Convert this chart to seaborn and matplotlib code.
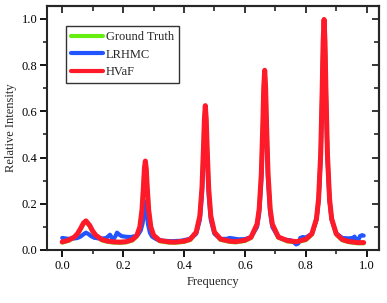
"""Relative intensity spectra: ground truth vs LRHMC vs HVaF."""

import matplotlib
matplotlib.use("Agg")
import matplotlib.pyplot as plt
from matplotlib.ticker import MultipleLocator
import seaborn as sns

# shared frequency grid for ground truth / HVaF (denser around the peaks)
freq = [0.00, 0.02, 0.04, 0.05, 0.06, 0.07, 0.078, 0.09, 0.10, 0.11, 0.13,
        0.15, 0.17, 0.19, 0.21, 0.23, 0.245, 0.255, 0.262, 0.267, 0.270,
        0.273, 0.276, 0.279, 0.284, 0.291, 0.30, 0.32, 0.35, 0.37, 0.40,
        0.42, 0.44, 0.452, 0.459, 0.464, 0.467, 0.470, 0.473, 0.476, 0.481,
        0.488, 0.50, 0.52, 0.55, 0.57, 0.60, 0.62, 0.64, 0.647, 0.654,
        0.659, 0.662, 0.665, 0.668, 0.671, 0.676, 0.683, 0.69, 0.71, 0.74,
        0.77, 0.80, 0.82, 0.835, 0.842, 0.849, 0.854, 0.857, 0.860, 0.863,
        0.866, 0.871, 0.878, 0.885, 0.90, 0.92, 0.94, 0.97, 0.99]

hvaf = [0.035, 0.042, 0.056, 0.070, 0.092, 0.117, 0.126, 0.107, 0.082, 0.064,
        0.045, 0.038, 0.035, 0.034, 0.036, 0.044, 0.062, 0.100, 0.173, 0.278,
        0.353, 0.385, 0.353, 0.278, 0.173, 0.100, 0.064, 0.041, 0.035, 0.034,
        0.038, 0.046, 0.077, 0.147, 0.268, 0.442, 0.567, 0.625, 0.567, 0.442,
        0.268, 0.147, 0.077, 0.047, 0.038, 0.036, 0.042, 0.055, 0.112, 0.178,
        0.330, 0.550, 0.706, 0.778, 0.706, 0.550, 0.330, 0.178, 0.112, 0.056,
        0.040, 0.036, 0.046, 0.070, 0.135, 0.221, 0.417, 0.701, 0.904, 0.998,
        0.904, 0.701, 0.417, 0.221, 0.135, 0.070, 0.045, 0.037, 0.032, 0.032]

ground_truth = [0.032, 0.039, 0.053, 0.067, 0.089, 0.114, 0.123, 0.104, 0.079,
                0.061, 0.042, 0.035, 0.032, 0.031, 0.033, 0.041, 0.059, 0.097,
                0.170, 0.275, 0.350, 0.382, 0.350, 0.275, 0.170, 0.097, 0.061,
                0.038, 0.032, 0.031, 0.035, 0.043, 0.074, 0.144, 0.265, 0.439,
                0.564, 0.622, 0.564, 0.439, 0.265, 0.144, 0.074, 0.044, 0.035,
                0.033, 0.039, 0.052, 0.109, 0.175, 0.327, 0.547, 0.703, 0.775,
                0.703, 0.547, 0.327, 0.175, 0.109, 0.053, 0.037, 0.033, 0.043,
                0.067, 0.132, 0.218, 0.414, 0.698, 0.901, 0.995, 0.901, 0.698,
                0.414, 0.218, 0.132, 0.067, 0.042, 0.034, 0.029, 0.029]

# LRHMC has its own (noisier) trace
freq_lr = [0.00, 0.01, 0.02, 0.03, 0.04, 0.05, 0.06, 0.07, 0.078, 0.085, 0.095,
           0.105, 0.12, 0.135, 0.145, 0.152, 0.157, 0.162, 0.168, 0.175, 0.18,
           0.186, 0.195, 0.21, 0.225, 0.24, 0.25, 0.258, 0.264, 0.268, 0.271,
           0.273, 0.275, 0.278, 0.282, 0.288, 0.295, 0.31, 0.33, 0.36, 0.39,
           0.42, 0.44, 0.452, 0.459, 0.464, 0.467, 0.470, 0.473, 0.476, 0.481,
           0.488, 0.50, 0.52, 0.54, 0.55, 0.56, 0.58, 0.60, 0.62, 0.64, 0.647,
           0.654, 0.659, 0.662, 0.665, 0.668, 0.671, 0.676, 0.683, 0.69, 0.71,
           0.73, 0.75, 0.76, 0.768, 0.775, 0.782, 0.79, 0.80, 0.82, 0.835,
           0.842, 0.849, 0.854, 0.857, 0.860, 0.863, 0.866, 0.871, 0.878,
           0.885, 0.90, 0.92, 0.94, 0.955, 0.96, 0.965, 0.972, 0.978, 0.985,
           0.99]

lrhmc = [0.052, 0.050, 0.048, 0.050, 0.050, 0.052, 0.058, 0.068, 0.075, 0.070,
         0.060, 0.053, 0.050, 0.050, 0.052, 0.060, 0.066, 0.055, 0.046, 0.060,
         0.075, 0.068, 0.060, 0.057, 0.056, 0.060, 0.068, 0.085, 0.115, 0.150,
         0.190, 0.210, 0.195, 0.155, 0.110, 0.075, 0.058, 0.046, 0.040, 0.038,
         0.040, 0.048, 0.070, 0.130, 0.240, 0.400, 0.520, 0.580, 0.520, 0.400,
         0.240, 0.130, 0.070, 0.048, 0.048, 0.052, 0.050, 0.046, 0.047, 0.055,
         0.100, 0.160, 0.300, 0.500, 0.650, 0.720, 0.650, 0.500, 0.300, 0.160,
         0.100, 0.055, 0.045, 0.042, 0.035, 0.024, 0.028, 0.052, 0.056, 0.054,
         0.070, 0.130, 0.210, 0.400, 0.670, 0.870, 0.950, 0.870, 0.670, 0.400,
         0.210, 0.130, 0.072, 0.052, 0.050, 0.052, 0.058, 0.045, 0.042, 0.060,
         0.064, 0.062]

sns.set_style("ticks")
plt.rcParams['font.family'] = ['Liberation Serif', 'DejaVu Serif']
plt.rcParams['font.size'] = 9
plt.rcParams['axes.linewidth'] = 1.5

fig = plt.figure(figsize=(3.87, 3.03), dpi=100)
ax = fig.add_axes([0.1214, 0.175, 0.8576, 0.805])

sns.lineplot(x=freq, y=ground_truth, color='#66ee11', linewidth=3.0,
             label='Ground Truth', ax=ax)
sns.lineplot(x=freq_lr, y=lrhmc, color='#2255ff', linewidth=3.0,
             label='LRHMC', ax=ax)
sns.lineplot(x=freq, y=hvaf, color='#ff1a2a', linewidth=3.6,
             label='HVaF', ax=ax)

ax.set_xlim(-0.05, 1.04)
ax.set_ylim(0, 1.056)
ax.xaxis.set_major_locator(MultipleLocator(0.2))
ax.xaxis.set_minor_locator(MultipleLocator(0.1))
ax.yaxis.set_major_locator(MultipleLocator(0.2))
ax.yaxis.set_minor_locator(MultipleLocator(0.1))
ax.xaxis.set_major_formatter(plt.FormatStrFormatter('%.1f'))
ax.yaxis.set_major_formatter(plt.FormatStrFormatter('%.1f'))
ax.tick_params(which='major', direction='out', length=5, width=1.3,
               labelsize=9, pad=2, colors='black')
ax.tick_params(which='minor', direction='out', length=3, width=1.2)

# inward ticks on the top and right, no labels
top = ax.secondary_xaxis('top')
right = ax.secondary_yaxis('right')
for sec in (top, right):
    sec_axis = sec.xaxis if sec is top else sec.yaxis
    sec_axis.set_major_locator(MultipleLocator(0.2))
    sec_axis.set_minor_locator(MultipleLocator(0.1))
    sec.tick_params(which='major', direction='in', length=5, width=1.3,
                    labelleft=False, labelright=False, labeltop=False)
    sec.tick_params(which='minor', direction='in', length=3.5, width=1.2)
    for sp in sec.spines.values():
        sp.set_linewidth(1.5)

ax.set_xlabel('Frequency', fontsize=9, labelpad=3)
ax.set_ylabel('Relative Intensity', fontsize=9, labelpad=3)

leg = ax.legend(loc='upper left', bbox_to_anchor=(0.057, 0.918),
                borderaxespad=0, fontsize=9, handlelength=2.6,
                handletextpad=0.2, labelspacing=0.45, borderpad=0.4,
                fancybox=False, framealpha=1)
leg.get_frame().set_edgecolor('#333333')
leg.get_frame().set_linewidth(1.0)
for line in leg.get_lines():
    line.set_linewidth(3.0)

fig.savefig('out.png', dpi=100)
